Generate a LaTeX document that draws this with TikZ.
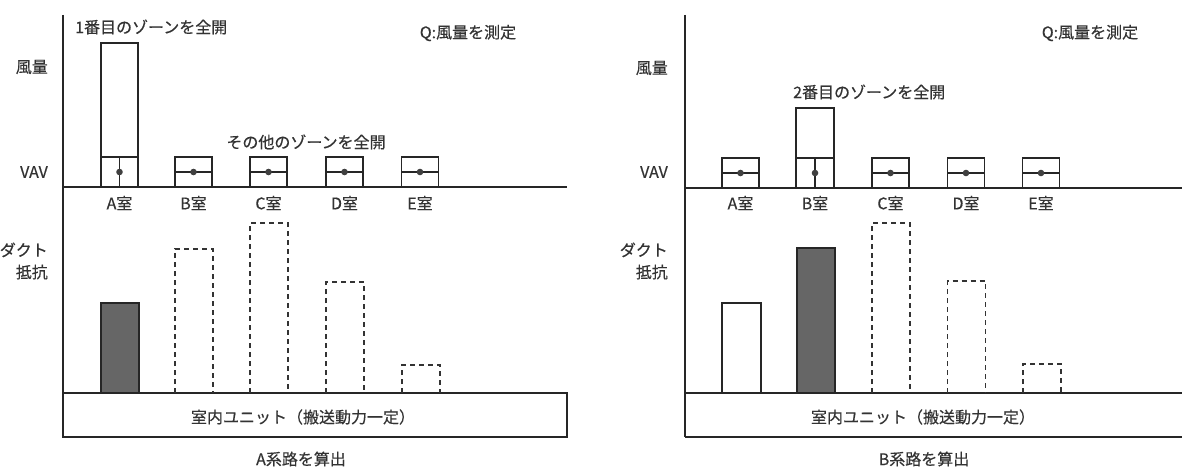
\documentclass[tikz,border=0pt]{standalone}
\usepackage{fontspec}
\newfontfamily\jp[FakeBold=0.4]{Noto Sans CJK JP}
\begin{document}
\begin{tikzpicture}[x=1pt,y=-1pt,
  ln/.style={line width=1.3pt, draw=black!85},
  dbar/.style={line width=1.3pt, draw=black!80, dash pattern=on 5pt off 4pt},
  lbl/.style={font=\jp\fontsize{16}{22}\selectfont, text=black!80, inner sep=0pt},
  dotc/.style={fill=black!75},
  gbar/.style={line width=1.3pt, draw=black!85, fill=black!60},
]
\useasboundingbox (0,0) rectangle (1182,468);
\fill[white] (0,0) rectangle (1182,468);

% ================= Left panel =================
\draw[ln] (63,15) -- (63,437);
\draw[ln] (63,187) -- (567,187);
\draw[ln] (63,393) rectangle (567,437);

% VAV boxes (closed)
\foreach \c in {193.5,268.5,344.5,420} {
  \draw[ln] (\c-18.5,157) rectangle (\c+18.5,187);
  \draw[ln] (\c-18.5,172) -- (\c+18.5,172);
  \fill[dotc] (\c,172) circle (3.3pt);
}
% VAV A fully open
\draw[ln] (101,43) rectangle (138,187);
\draw[ln] (101,157) -- (138,157);
\draw[ln] (119.5,157) -- (119.5,187);
\fill[dotc] (119.5,172) circle (3.3pt);

% duct resistance bars
\filldraw[gbar] (101,393) rectangle (139,303);
\foreach \c/\t in {194/249,269/223,345/282,421/365} {
  \draw[dbar] (\c-19,393) -- (\c-19,\t) -- (\c+19,\t) -- (\c+19,393);
}

% labels
\foreach \c/\r in {119.5/A,193.5/B,268.5/C,344.5/D,420/E} {
  \node[lbl] (roomL-\r) at (\c,203) {{\r}室};
}
\node[lbl, anchor=east] (fuL) at (48,67) {風量};
\node[lbl, anchor=east] (vavL) at (48,172) {VAV};
\node[lbl, anchor=east, align=right] (ductL) at (48,261) {ダクト\\抵抗};
\node[lbl, anchor=west] (openL) at (75,27) {1番目のゾーンを全開};
\node[lbl] (otherL) at (306,142) {その他のゾーンを全開};
\node[lbl] (qL) at (468,33) {Q:風量を測定};
\node[lbl] (unitL) at (303,417) {室内ユニット（搬送動力一定）};
\node[lbl] (capL) at (301,459) {A系路を算出};

% ================= Right panel =================
\draw[ln] (685,15) -- (685,437);
\draw[ln] (685,188) -- (1182,188);
\draw[ln] (685,393) -- (1182,393);
\draw[ln] (685,437) -- (1182,437);

\foreach \c in {740.5,890.5,966,1041} {
  \draw[ln] (\c-18.5,158) rectangle (\c+18.5,188);
  \draw[ln] (\c-18.5,173) -- (\c+18.5,173);
  \fill[dotc] (\c,173) circle (3.3pt);
}
% VAV B fully open
\draw[ln] (796,108) rectangle (834,188);
\draw[ln] (796,158) -- (834,158);
\draw[ln] (815,158) -- (815,188);
\fill[dotc] (815,173) circle (3.3pt);

\draw[ln, fill=white] (722,393) rectangle (761,303);
\filldraw[gbar] (797,393) rectangle (835,248);
\foreach \c/\t in {891/223,966.5/281,1042/364} {
  \draw[dbar] (\c-19,393) -- (\c-19,\t) -- (\c+19,\t) -- (\c+19,393);
}

\foreach \c/\r in {740.5/A,815/B,890.5/C,966/D,1041/E} {
  \node[lbl] (roomR-\r) at (\c,203) {{\r}室};
}
\node[lbl, anchor=east] (fuR) at (668,68) {風量};
\node[lbl, anchor=east] (vavR) at (668,172) {VAV};
\node[lbl, anchor=east, align=right] (ductR) at (668,261) {ダクト\\抵抗};
\node[lbl, anchor=west] (openR) at (793,92) {2番目のゾーンを全開};
\node[lbl] (qR) at (1090,33) {Q:風量を測定};
\node[lbl] (unitR) at (923,417) {室内ユニット（搬送動力一定）};
\node[lbl] (capR) at (924,459) {B系路を算出};
\end{tikzpicture}
\end{document}
